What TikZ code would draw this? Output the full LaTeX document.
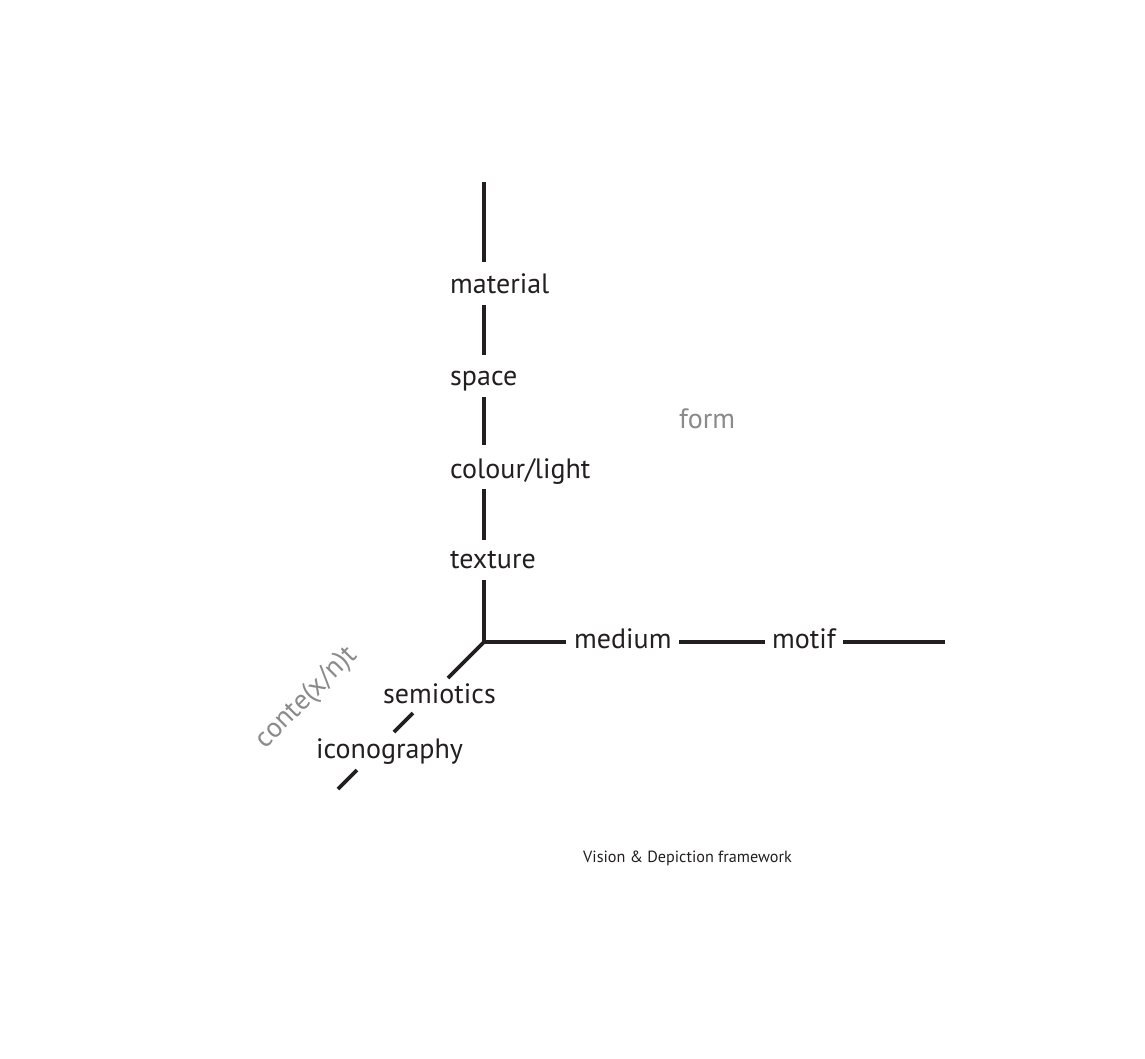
\documentclass[tikz,border=0pt]{standalone}
\usepackage{fontspec}
\setmainfont{PT Sans}
\definecolor{ink}{HTML}{231F20}
\definecolor{soft}{HTML}{8A8A8A}
\begin{document}
\begin{tikzpicture}[x=1pt,y=-1pt,
  axis/.style={line width=3.6pt,draw=ink},
  lbl/.style={anchor=base west,inner sep=0pt,text=ink,font=\fontsize{28}{30}\selectfont},
  glbl/.style={anchor=base west,inner sep=0pt,text=soft,font=\fontsize{28}{30}\selectfont}]
\useasboundingbox[fill=white] (0,0) rectangle (1145,1058);
% origin
\coordinate (o) at (484,642);
% labels
\node[lbl] (material) at (450,293) {material};
\node[lbl] (space) at (450,385) {space};
\node[lbl] (colour) at (450,478) {colour/light};
\node[lbl] (texture) at (450,568) {texture};
\node[lbl] (medium) at (574,648) {medium};
\node[lbl] (motif) at (772,648) {motif};
\node[lbl] (semiotics) at (383,703) {semiotics};
\node[lbl] (iconography) at (316,758) {iconography};
\node[glbl] (form) at (679,428) {form};
\node[glbl,anchor=center,rotate=45] (context) at (307,698) {conte(x/n)t};
\node[anchor=base west,inner sep=0pt,text=ink,font=\fontsize{16.2}{18}\selectfont] (title) at (583,862) {Vision \& Depiction framework};
% vertical axis
\coordinate (vt) at (484,182);
\coordinate (v1) at (484,262);
\coordinate (v2) at (484,305);
\coordinate (v3) at (484,355);
\coordinate (v4) at (484,397);
\coordinate (v5) at (484,445);
\coordinate (v6) at (484,489);
\coordinate (v7) at (484,540);
\coordinate (v8) at (484,580);
\draw[axis] (vt) -- (v1);
\draw[axis] (v2) -- (v3);
\draw[axis] (v4) -- (v5);
\draw[axis] (v6) -- (v7);
\draw[axis] (v8) -- (o);
% horizontal axis
\coordinate (h1) at (566,642);
\coordinate (h2) at (679,642);
\coordinate (h3) at (765,642);
\coordinate (h4) at (843,642);
\coordinate (he) at (945,642);
\draw[axis] (o) -- (h1);
\draw[axis] (h2) -- (h3);
\draw[axis] (h4) -- (he);
% diagonal axis
\coordinate (d1) at (448,678);
\coordinate (d2) at (413,713);
\coordinate (d3) at (394,732);
\coordinate (d4) at (357,770);
\coordinate (de) at (338,789);
\draw[axis] (o) -- (d1);
\draw[axis] (d2) -- (d3);
\draw[axis] (d4) -- (de);
\end{tikzpicture}
\end{document}
